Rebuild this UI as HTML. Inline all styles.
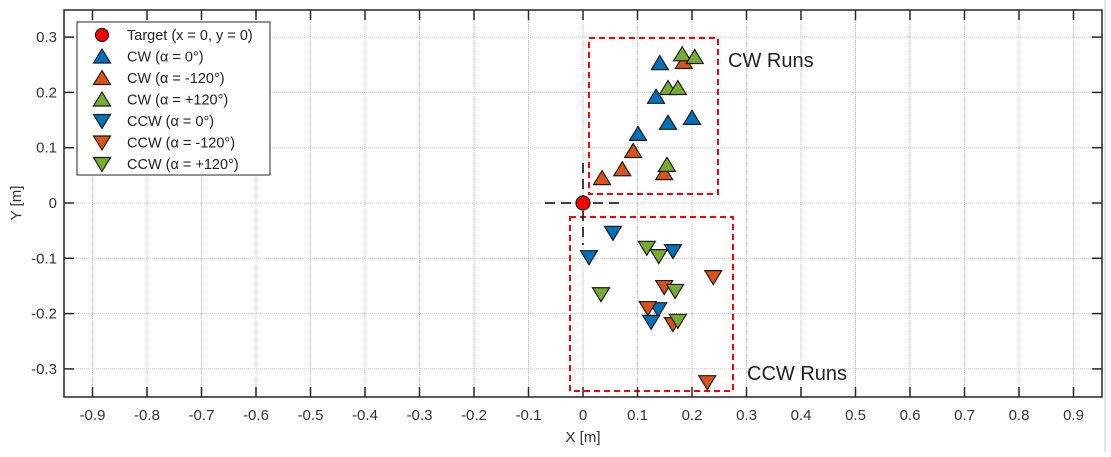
<!DOCTYPE html>
<html><head><meta charset="utf-8"><style>
body{margin:0;background:#fff;}
svg text{font-family:"Liberation Sans",Arial,sans-serif;}
</style></head><body>
<svg id="chart" width="1111" height="452" xmlns="http://www.w3.org/2000/svg">
<line x1="1105" y1="0" x2="1105" y2="452" stroke="#ccc"/>
<g id="grid"></g>
<g id="annot"></g>
<g id="marks"></g>
<g id="axes"></g>
<g id="legend"></g>
</svg>
<script>
const xTicks=[-0.9,-0.8,-0.7,-0.6,-0.5,-0.4,-0.3,-0.2,-0.1,0,0.1,0.2,0.3,0.4,0.5,0.6,0.7,0.8,0.9];
const yTicks=[-0.3,-0.2,-0.1,0,0.1,0.2,0.3];
const cw0X=[0.141,0.134,0.156,0.200,0.101];
const cw0Y=[0.253,0.192,0.145,0.154,0.125];
const cwm120X=[0.185,0.092,0.072,0.035,0.149];
const cwm120Y=[0.255,0.094,0.061,0.045,0.054];
const cwp120X=[0.182,0.205,0.156,0.174,0.154];
const cwp120Y=[0.269,0.264,0.208,0.208,0.069];
const ccw0X=[0.055,0.011,0.165,0.138,0.125];
const ccw0Y=[-0.054,-0.098,-0.087,-0.192,-0.215];
const ccwm120X=[0.239,0.149,0.119,0.165,0.228];
const ccwm120Y=[-0.134,-0.152,-0.190,-0.219,-0.324];
const ccwp120X=[0.117,0.139,0.033,0.169,0.174];
const ccwp120Y=[-0.081,-0.096,-0.165,-0.159,-0.213];

const NS="http://www.w3.org/2000/svg";
const L=64,R=1102,T=10,B=397;
const sx=v=>583+v*545;
const sy=v=>203-v*553;
function mk(tag,attrs,parent){const e=document.createElementNS(NS,tag);for(const k in attrs)e.setAttribute(k,attrs[k]);parent.appendChild(e);return e;}
const grid=document.getElementById('grid'),axes=document.getElementById('axes'),marks=document.getElementById('marks'),annot=document.getElementById('annot'),legend=document.getElementById('legend');

xTicks.forEach(t=>{const x=sx(t);
 let g=mk('line',{x1:x,y1:T,x2:x,y2:B,stroke:'#c8c8c8','stroke-width':1,'stroke-dasharray':'1,1'},grid);
 
 let a=mk('line',{x1:x,y1:B,x2:x,y2:B-10,stroke:'#262626','stroke-width':1.5},axes);
 
 let b=mk('line',{x1:x,y1:T,x2:x,y2:T+10,stroke:'#262626','stroke-width':1.5},axes);
 
 let tx=mk('text',{x:x,y:B+23,'text-anchor':'middle','font-size':15,fill:'#333'},axes);
 tx.textContent=(Math.round(t*10)/10).toString();
 
});
yTicks.forEach(t=>{const y=sy(t);
 let g=mk('line',{x1:L,y1:y,x2:R,y2:y,stroke:'#c8c8c8','stroke-width':1,'stroke-dasharray':'1,1'},grid);
 
 let a=mk('line',{x1:L,y1:y,x2:L+10,y2:y,stroke:'#262626','stroke-width':1.5},axes);
 
 let b=mk('line',{x1:R,y1:y,x2:R-10,y2:y,stroke:'#262626','stroke-width':1.5},axes);
 
 let tx=mk('text',{x:L-7,y:y+5,'text-anchor':'end','font-size':15,fill:'#333'},axes);
 tx.textContent=(Math.round(t*10)/10).toString();
 
});
let fr=mk('rect',{x:L,y:T,width:R-L,height:B-T,fill:'none',stroke:'#262626','stroke-width':1.5},axes);

let xt=mk('text',{x:583,y:442,'text-anchor':'middle','font-size':15,fill:'#333'},axes);xt.textContent='X [m]';

let yt=mk('text',{x:0,y:0,'text-anchor':'middle','font-size':15,fill:'#333',transform:'translate(21,203) rotate(-90)'},axes);yt.textContent='Y [m]';


let b1=mk('rect',{x:589,y:38,width:129,height:156,fill:'none',stroke:'#f00','stroke-width':2,'stroke-dasharray':'6,4'},annot);

let b2=mk('rect',{x:570,y:217,width:163,height:174,fill:'none',stroke:'#f00','stroke-width':2,'stroke-dasharray':'6,4'},annot);

let c1=mk('line',{x1:545,y1:203,x2:622,y2:203,stroke:'#000','stroke-width':1.5,'stroke-dasharray':'10,6'},annot);

let c2=mk('line',{x1:583,y1:163,x2:583,y2:245,stroke:'#000','stroke-width':1.5,'stroke-dasharray':'10,6'},annot);

let t1=mk('text',{x:728,y:67,'font-size':20,fill:'#222'},annot);t1.textContent='CW Runs';

let t2=mk('text',{x:747,y:380,'font-size':20,fill:'#222'},annot);t2.textContent='CCW Runs';


function tri(cx,cy,up,color,parent){
 const w=8.5,h=6.5;
 const pts=up?`${cx-w},${cy+h} ${cx+w},${cy+h} ${cx},${cy-h-1}`:`${cx-w},${cy-h} ${cx+w},${cy-h} ${cx},${cy+h+1}`;
 return mk('polygon',{points:pts,fill:color,stroke:'#1a1a1a','stroke-width':1.2},parent);
}
const series=[
 [cw0X,cw0Y,true,'#0072BD','cw-0'],
 [cwm120X,cwm120Y,true,'#D95319','cw-m120'],
 [cwp120X,cwp120Y,true,'#77AC30','cw-p120'],
 [ccw0X,ccw0Y,false,'#0072BD','ccw-0'],
 [ccwm120X,ccwm120Y,false,'#D95319','ccw-m120'],
 [ccwp120X,ccwp120Y,false,'#77AC30','ccw-p120']];
series.forEach(s=>{s[0].forEach((v,i)=>{
 const p=tri(sx(v),sy(s[1][i]),s[2],s[3],marks);
 
 
});});
let tg=mk('circle',{cx:sx(0),cy:sy(0),r:7,fill:'#f00',stroke:'#1a1a1a','stroke-width':1.2},marks);


let lb=mk('rect',{x:77,y:22,width:193,height:153,fill:'#fff',stroke:'#262626','stroke-width':1},legend);

const legLabels=['Target (x = 0, y = 0)','CW (α = 0°)','CW (α = -120°)','CW (α = +120°)','CCW (α = 0°)','CCW (α = -120°)','CCW (α = +120°)'];
legLabels.forEach((lab,i)=>{
 const y=35+i*21.5;
 let m;
 if(i===0){m=mk('circle',{cx:102,cy:y,r:6.5,fill:'#f00',stroke:'#1a1a1a','stroke-width':1.2},legend);}
 else{const s=series[i-1];m=tri(102,y,s[2],s[3],legend);}
 
 let tx=mk('text',{x:127,y:y+5,'font-size':14.5,fill:'#222'},legend);tx.textContent=lab;
 
});
</script>
</body></html>
